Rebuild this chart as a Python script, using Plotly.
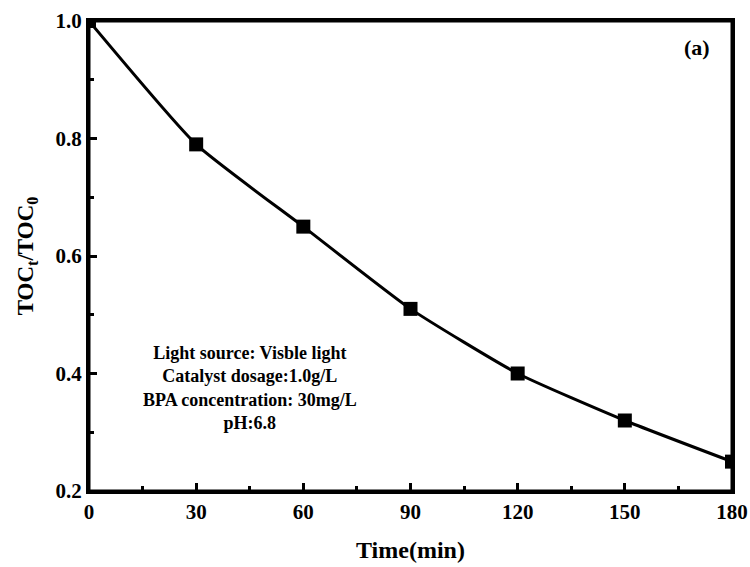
import plotly.graph_objects as go

time_min = [0, 30, 60, 90, 120, 150, 180]
toc_ratio = [1.0, 0.79, 0.65, 0.51, 0.40, 0.32, 0.25]
x_ticks = [0, 30, 60, 90, 120, 150, 180]
y_ticks = [0.2, 0.4, 0.6, 0.8, 1.0]
y_ticklabels = ["0.2", "0.4", "0.6", "0.8", "1.0"]

FONT = "Liberation Serif"

fig = go.Figure()
fig.add_trace(go.Scatter(
    x=time_min, y=toc_ratio, mode="lines+markers",
    line=dict(color="black", width=3, shape="spline", smoothing=0.5),
    marker=dict(symbol="square", size=14, color="black"),
    cliponaxis=True, showlegend=False,
))

def axis_style(title_size):
    return dict(
        showline=True, linecolor="black", linewidth=3, mirror=True,
        ticks="inside", ticklen=8, tickwidth=3, tickcolor="black",
        showgrid=False, zeroline=False, automargin=False,
        tickfont=dict(family=FONT, size=21, color="black", weight="bold"),
        title_font=dict(family=FONT, size=title_size, color="black", weight="bold"),
    )

fig.update_xaxes(
    range=[0, 180], tickvals=x_ticks, ticktext=[str(v) for v in x_ticks],
    title_text="Time(min)", title_standoff=18,
    minor=dict(ticks="inside", ticklen=5, tickwidth=3, tickcolor="black",
               dtick=15, tick0=0, showgrid=False),
    **axis_style(24),
)
fig.update_yaxes(
    range=[0.2, 1.0], tickvals=y_ticks, ticktext=y_ticklabels,
    title_text="TOC<sub>t</sub>/TOC<sub>0</sub>", title_standoff=16,
    minor=dict(ticks="inside", ticklen=5, tickwidth=3, tickcolor="black",
               dtick=0.1, tick0=0.2, showgrid=False),
    **axis_style(23),
)

# plot frame
fig.add_shape(type="rect", xref="paper", yref="paper", x0=0, y0=0, x1=1, y1=1,
              line=dict(color="black", width=3), layer="above")

fig.add_annotation(
    x=0.25, y=0.22, xref="paper", yref="paper", showarrow=False,
    xanchor="center", yanchor="middle",
    text="Light source: Visble light<br>Catalyst dosage:1.0g/L<br>BPA concentration: 30mg/L<br>pH:6.8",
    align="center", font=dict(family=FONT, size=18, color="black", weight="bold"),
)
fig.add_annotation(
    x=0.946, y=0.943, xref="paper", yref="paper", showarrow=False,
    xanchor="center", yanchor="middle",
    text="(a)", font=dict(family=FONT, size=22, color="black", weight="bold"),
)

fig.update_layout(
    width=750, height=567,
    margin=dict(l=89, r=18, t=21, b=76),
    plot_bgcolor="white", paper_bgcolor="white",
)

fig.write_html("out.html")
